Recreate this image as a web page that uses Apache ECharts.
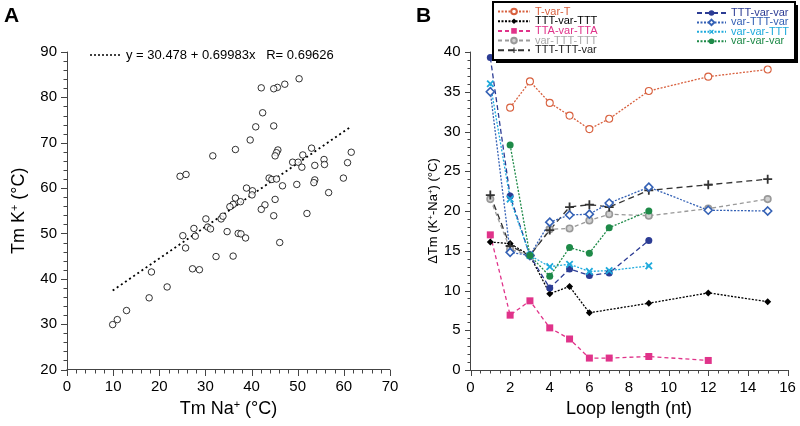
<!DOCTYPE html>
<html><head><meta charset="utf-8">
<script src="https://cdn.jsdelivr.net/npm/echarts@6/dist/echarts.min.js"></script>
<style>html,body{margin:0;padding:0;background:#fff}#c{width:800px;height:426px}</style>
</head><body><div id="c"></div>
<script>
// ---------- Panel A data ----------
const tmNa = [36.5,31.6,24.5,25.8,50.3,47.2,45.6,44.8,42.1,42.4,40.9,44.8,39.7,45.7,45.4,45.1,53.0,51.1,48.9,50.1,50.9,53.7,55.7,55.8,61.6,60.8,59.9,56.7,53.7,53.5,49.8,46.7,43.8,44.4,45.4,38.9,40.2,40.1,36.5,37.6,36.0,35.3,45.1,42.9,42.1,44.8,52.0,37.1,37.7,38.7,46.1,36.0,30.1,33.4,33.8,30.5,31.1,27.5,27.8,25.1,25.7,34.7,32.3,27.2,28.7,18.3,21.7,17.8,12.9,10.9,9.9];
const tmK  = [68.5,67.1,62.6,63.0,84.1,82.9,82.2,81.9,82.1,76.6,73.5,73.7,70.6,68.4,67.8,67.1,68.8,67.3,65.7,65.7,64.6,65.0,66.3,65.2,67.9,65.6,62.2,59.0,61.8,61.2,60.8,60.5,62.2,61.9,62.0,60.0,59.4,58.5,57.8,57.0,56.4,55.9,57.5,56.3,55.3,53.9,54.4,50.0,49.9,49.0,48.0,45.0,53.2,53.2,53.8,51.4,51.0,51.1,49.4,49.5,46.8,50.4,44.9,42.2,42.0,41.5,38.2,35.8,33.0,31.0,29.9];
const fitIntercept = 30.478, fitSlope = 0.69983;
const fitLabel = 'y = 30.478 + 0.69983x   R= 0.69626';

// ---------- Panel B data ----------
const names = ['T-var-T','TTT-var-TTT','TTA-var-TTA','var-TTT-TTT','TTT-TTT-var','TTT-var-var','var-TTT-var','var-var-TTT','var-var-var'];
const loop_TvarT   = [2,3,4,5,6,7,9,12,15];
const dTm_TvarT    = [33.0,36.3,33.6,32.0,30.3,31.6,35.1,36.9,37.8];
const loop_TTTvarTTT = [1,2,3,4,5,6,9,12,15];
const dTm_TTTvarTTT  = [16.1,15.9,14.4,9.6,10.5,7.2,8.4,9.7,8.6];
const loop_TTAvarTTA = [1,2,3,4,5,6,7,9,12];
const dTm_TTAvarTTA  = [17.0,6.9,8.7,5.3,3.9,1.5,1.5,1.7,1.2];
const loop_varTTTTTT = [1,2,3,4,5,6,7,9,12,15];
const dTm_varTTTTTT  = [21.5,15.2,14.4,17.7,17.8,18.8,19.6,19.4,20.3,21.5];
const loop_TTTTTTvar = [1,2,3,4,5,6,7,9,12,15];
const dTm_TTTTTTvar  = [22.0,15.6,14.4,17.6,20.5,20.8,20.5,22.6,23.3,24.0];
const loop_TTTvarvar = [1,2,3,4,5,6,7,9];
const dTm_TTTvarvar  = [39.3,21.9,14.4,10.3,12.7,11.9,12.2,16.3];
const loop_varTTTvar = [1,2,3,4,5,6,7,9,12,15];
const dTm_varTTTvar  = [35.0,14.8,14.4,18.6,19.5,19.6,21.0,23.0,20.1,20.0];
const loop_varvarTTT = [1,2,3,4,5,6,7,9];
const dTm_varvarTTT  = [36.0,21.5,14.4,13.0,13.3,12.4,12.5,13.1];
const loop_varvarvar = [2,3,4,5,6,7,9];
const dTm_varvarvar  = [28.3,14.4,11.8,15.4,14.7,17.9,20.0];

// axis ranges / tick steps [min, max, majorStep, minorStep]
const axA_x = [0, 70, 10, 2];
const axA_y = [20, 90, 10, 2];
const axB_x = [0, 16, 2, 0.5];
const axB_y = [0, 40, 5, 1];

const zip = (a,b) => a.map((v,i)=>[v,b[i]]);
const FONT = '"Liberation Sans", Arial, Helvetica, sans-serif';
const AX = '#444';

const plusPath = 'path://M4,0H6V4H10V6H6V10H4V6H0V4H4Z';
const styles = {
  'T-var-T':     {color:'#d8603e', text:'#d8603e', sym:'circle', fill:'#fff', size:7, dash:[2,1.5], bw:1.1},
  'TTT-var-TTT': {color:'#000000', text:'#000', sym:'diamond', size:7, dash:[2,1.5]},
  'TTA-var-TTA': {color:'#e0338a', text:'#e0338a', sym:'rect', size:7, dash:[4,3]},
  'var-TTT-TTT': {color:'#999999', text:'#aaaaaa', sym:'circle', fill:'#d0d0d0', size:6.5, dash:[4,3], bw:1.6},
  'TTT-TTT-var': {color:'#333333', text:'#222', sym:plusPath, size:9, dash:[6,4]},
  'TTT-var-var': {color:'#2c3c94', text:'#2c3c94', sym:'circle', size:7, dash:[5,3]},
  'var-TTT-var': {color:'#3461b5', text:'#3461b5', sym:'diamond', fill:'#fff', size:8, dash:[2,1.5], bw:1.6},
  'var-var-TTT': {color:'#1eaadc', text:'#1eaadc', sym:plusPath, size:9, dash:[2,1.5], rot:45},
  'var-var-var': {color:'#1e8a48', text:'#1e8a48', sym:'circle', size:7, dash:[2,1.5]}
};
const dataB = {
  'T-var-T': zip(loop_TvarT,dTm_TvarT),
  'TTT-var-TTT': zip(loop_TTTvarTTT,dTm_TTTvarTTT),
  'TTA-var-TTA': zip(loop_TTAvarTTA,dTm_TTAvarTTA),
  'var-TTT-TTT': zip(loop_varTTTTTT,dTm_varTTTTTT),
  'TTT-TTT-var': zip(loop_TTTTTTvar,dTm_TTTTTTvar),
  'TTT-var-var': zip(loop_TTTvarvar,dTm_TTTvarvar),
  'var-TTT-var': zip(loop_varTTTvar,dTm_varTTTvar),
  'var-var-TTT': zip(loop_varvarTTT,dTm_varvarTTT),
  'var-var-var': zip(loop_varvarvar,dTm_varvarvar)
};

const fitX = [Math.min(...tmNa), Math.max(...tmNa)];
const fitData = fitX.map(x => [x, fitIntercept + fitSlope*x]);

function axisMain(r) {
  return {
    type:'value', min:r[0], max:r[1], interval:r[2],
    axisLine:{show:true, onZero:false, lineStyle:{color:AX, width:1}},
    axisTick:{show:false},
    splitLine:{show:false},
    axisLabel:{color:'#000', fontSize:15, fontFamily:FONT, margin:10},
    nameTextStyle:{color:'#000', fontFamily:FONT}
  };
}

const seriesB = names.map(n => {
  const s = styles[n];
  return {
    name:n, type:'line', xAxisIndex:1, yAxisIndex:1, data:dataB[n],
    symbol:s.sym, symbolSize:s.size, symbolRotate:s.rot||0,
    lineStyle:{color:s.color, width:1.3, type:s.dash},
    itemStyle:{color:s.fill||s.color, borderColor:s.color, borderWidth: s.bw||0},
    emphasis:{disabled:true}, animation:false, z:2
  };
});

// tick marks drawn as custom series through the axes' own scales
function tickValues(r) {
  const out = [];
  const n = Math.round((r[1]-r[0])/r[3]);
  for (let i=0;i<=n;i++){
    const v = +(r[0]+i*r[3]).toFixed(6);
    const isMajor = Math.abs(((v - r[0]) / r[2]) - Math.round((v - r[0]) / r[2])) < 1e-6;
    out.push([v, isMajor ? 6 : 3.5]);
  }
  return out;
}
function tickSeries(grid, rx, ry) {
  const xt = tickValues(rx), yt = tickValues(ry);
  return [
    {type:'custom', xAxisIndex:grid, yAxisIndex:grid, clip:false, silent:true, z:6, animation:false,
     data: xt.map(t => [t[0], ry[0], t[1]]),
     renderItem:(params, api) => {
       const p = api.coord([api.value(0), api.value(1)]);
       const x = Math.round(p[0]) + 0.5, y = Math.round(p[1]);
       return {type:'line', shape:{x1:x, y1:y, x2:x, y2:y+api.value(2)}, style:{stroke:AX, lineWidth:1}};
     }},
    {type:'custom', xAxisIndex:grid, yAxisIndex:grid, clip:false, silent:true, z:6, animation:false,
     data: yt.map(t => [rx[0], t[0], t[1]]),
     renderItem:(params, api) => {
       const p = api.coord([api.value(0), api.value(1)]);
       const x = Math.round(p[0]), y = Math.round(p[1]) + 0.5;
       return {type:'line', shape:{x1:x, y1:y, x2:x-api.value(2), y2:y}, style:{stroke:AX, lineWidth:1}};
     }}
  ];
}

const legItem = n => ({name:n, textStyle:{color:styles[n].text}});

const option = {
  animation:false,
  textStyle:{fontFamily:FONT},
  grid:[
    {left:67, top:52, width:323, height:317.5},
    {left:470.5, top:52, width:317, height:318}
  ],
  xAxis:[
    Object.assign(axisMain(axA_x), {gridIndex:0, position:'bottom',
      name:'Tm Na{sup|+} (°C)', nameLocation:'middle', nameGap:30,
      nameTextStyle:{color:'#000', fontFamily:FONT, fontSize:18, rich:{sup:{fontSize:11, padding:[0,0,9,0], color:'#000'}}}}),
    Object.assign(axisMain(axB_x), {gridIndex:1, position:'bottom',
      name:'Loop length (nt)', nameLocation:'middle', nameGap:30,
      nameTextStyle:{color:'#000', fontFamily:FONT, fontSize:18}})
  ],
  yAxis:[
    Object.assign(axisMain(axA_y), {gridIndex:0, position:'left',
      name:'Tm K{sup|+} (°C)', nameLocation:'middle', nameGap:38, nameRotate:90,
      nameTextStyle:{color:'#000', fontFamily:FONT, fontSize:18, rich:{sup:{fontSize:11, padding:[0,0,9,0], color:'#000'}}}}),
    Object.assign(axisMain(axB_y), {gridIndex:1, position:'left',
      name:'ΔTm (K{sup|+}-Na{sup|+}) (°C)', nameLocation:'middle', nameGap:24, nameRotate:90,
      nameTextStyle:{color:'#000', fontFamily:FONT, fontSize:13, rich:{sup:{fontSize:8, padding:[0,0,6,0], color:'#000'}}}})
  ],
  legend:[
    {left:497, top:6, padding:0, orient:'vertical', itemWidth:32, itemHeight:7, itemGap:-1.3,
     data:names.slice(0,5).map(legItem), textStyle:{fontSize:11, fontFamily:FONT}, selectedMode:false, z:5},
    {left:696, top:7.5, padding:0, orient:'vertical', itemWidth:29, itemHeight:7, itemGap:-1.6,
     data:names.slice(5).map(legItem), textStyle:{fontSize:11, fontFamily:FONT}, selectedMode:false, z:5}
  ],
  graphic:[
    {type:'text', left:4, top:6, style:{text:'A', font:'bold 21px '+FONT, fill:'#000'}},
    {type:'text', left:416, top:6, style:{text:'B', font:'bold 21px '+FONT, fill:'#000'}},
    {type:'line', shape:{x1:90, y1:55, x2:121, y2:55}, style:{stroke:'#000', lineWidth:1.5, lineDash:[2,2]}},
    {type:'text', x:126, y:55, style:{text:fitLabel, font:'13px '+FONT, fill:'#000', verticalAlign:'middle'}},
    {type:'rect', z:3, shape:{x:496, y:5, width:302, height:58}, style:{fill:'#000'}},
    {type:'rect', z:3, shape:{x:493, y:2, width:302, height:58}, style:{fill:'#fff', stroke:'#000', lineWidth:2}}
  ],
  series:[
    {name:'fit', type:'line', xAxisIndex:0, yAxisIndex:0, data:fitData, showSymbol:false, symbol:'none',
     lineStyle:{color:'#000', width:1.8, type:[2,3]}, z:2},
    {name:'points', type:'scatter', xAxisIndex:0, yAxisIndex:0, data:zip(tmNa,tmK),
     symbol:'circle', symbolSize:6.5, itemStyle:{color:'#fff', borderColor:'#000', borderWidth:1}, z:3}
  ].concat(seriesB, tickSeries(0, axA_x, axA_y), tickSeries(1, axB_x, axB_y))
};

const chart = echarts.init(document.getElementById('c'), null, {renderer:'canvas'});
chart.setOption(option);
</script></body></html>
